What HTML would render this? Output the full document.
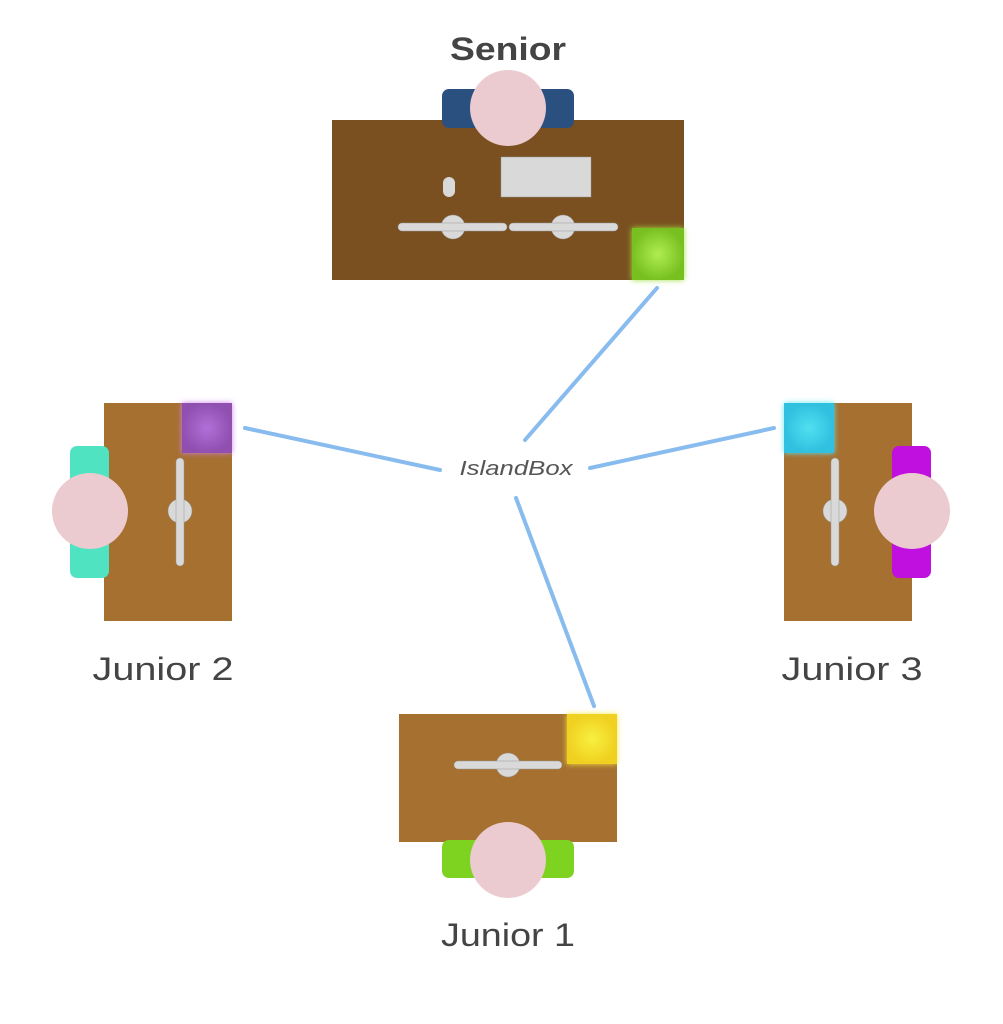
<!DOCTYPE html>
<html><head><meta charset="utf-8"><style>
html,body{margin:0;padding:0;background:#fff;width:1003px;height:1024px;overflow:hidden}
svg{display:block}
text{font-family:"Liberation Sans",sans-serif}
</style></head><body>
<svg width="1003" height="1024" viewBox="0 0 1003 1024">
<defs>
<filter id="glow" x="-50%" y="-50%" width="200%" height="200%"><feGaussianBlur stdDeviation="3"/></filter>
<radialGradient id="gG"><stop offset="0" stop-color="#b0ee50"/><stop offset="1" stop-color="#78c020"/></radialGradient>
<radialGradient id="gP"><stop offset="0" stop-color="#b070d8"/><stop offset="1" stop-color="#9050b0"/></radialGradient>
<radialGradient id="gC"><stop offset="0" stop-color="#50e0f0"/><stop offset="1" stop-color="#30c0e0"/></radialGradient>
<radialGradient id="gY"><stop offset="0" stop-color="#f8f040"/><stop offset="1" stop-color="#f0d020"/></radialGradient>
</defs>

<g stroke="#88bbee" stroke-width="4" stroke-linecap="round">
<line x1="657" y1="288" x2="525" y2="440"/>
<line x1="245" y1="428" x2="440" y2="470"/>
<line x1="590" y1="468" x2="774" y2="428"/>
<line x1="516" y1="498" x2="594" y2="706"/>
</g>
<text x="516" y="475" font-size="20" font-style="italic" fill="#555" text-anchor="middle" textLength="113" lengthAdjust="spacingAndGlyphs">IslandBox</text>

<!-- Senior -->
<g>
<text x="508" y="60" font-size="32" font-weight="bold" fill="#444" text-anchor="middle" textLength="116" lengthAdjust="spacingAndGlyphs">Senior</text>
<rect x="332" y="120" width="352" height="160" fill="#7a5020"/>
<rect x="442" y="89" width="132" height="39" rx="7" fill="#2a5080"/>
<circle cx="508" cy="108" r="38" fill="#ebcbcf"/>
<rect x="501" y="157" width="90" height="40" fill="#d9d9d9" stroke="#999" stroke-width="0.5"/>
<rect x="443" y="177" width="12" height="20" rx="6" fill="#d9d9d9"/>
<circle cx="453" cy="227" r="12" fill="#d9d9d9" stroke="#999" stroke-width="0.5"/>
<circle cx="563" cy="227" r="12" fill="#d9d9d9" stroke="#999" stroke-width="0.5"/>
<rect x="398" y="223" width="109" height="8" rx="4" fill="#d9d9d9" stroke="#999" stroke-width="0.5"/>
<rect x="509" y="223" width="109" height="8" rx="4" fill="#d9d9d9" stroke="#999" stroke-width="0.5"/>
<rect x="632" y="228" width="52" height="52" fill="#a0e040" filter="url(#glow)"/>
<rect x="632" y="228" width="52" height="52" fill="url(#gG)"/>
</g>

<!-- Junior 2 -->
<g>
<rect x="104" y="403" width="128" height="218" fill="#a57030"/>
<rect x="70" y="446" width="39" height="132" rx="7" fill="#50e3c2"/>
<circle cx="90" cy="511" r="38" fill="#ebcbcf"/>
<circle cx="180" cy="511" r="12" fill="#d9d9d9" stroke="#999" stroke-width="0.5"/>
<rect x="176" y="458" width="8" height="108" rx="4" fill="#d9d9d9" stroke="#999" stroke-width="0.5"/>
<rect x="182" y="403" width="50" height="50" fill="#d080f0" filter="url(#glow)"/>
<rect x="182" y="403" width="50" height="50" fill="url(#gP)"/>
<text x="163" y="680" font-size="32" fill="#444" text-anchor="middle" textLength="141" lengthAdjust="spacingAndGlyphs">Junior 2</text>
</g>

<!-- Junior 3 -->
<g>
<rect x="784" y="403" width="128" height="218" fill="#a57030"/>
<rect x="892" y="446" width="39" height="132" rx="7" fill="#c010e0"/>
<circle cx="912" cy="511" r="38" fill="#ebcbcf"/>
<circle cx="835" cy="511" r="12" fill="#d9d9d9" stroke="#999" stroke-width="0.5"/>
<rect x="831" y="458" width="8" height="108" rx="4" fill="#d9d9d9" stroke="#999" stroke-width="0.5"/>
<rect x="784" y="403" width="50" height="50" fill="#60e8f8" filter="url(#glow)"/>
<rect x="784" y="403" width="50" height="50" fill="url(#gC)"/>
<text x="852" y="680" font-size="32" fill="#444" text-anchor="middle" textLength="141" lengthAdjust="spacingAndGlyphs">Junior 3</text>
</g>

<!-- Junior 1 -->
<g>
<rect x="399" y="714" width="218" height="128" fill="#a57030"/>
<rect x="442" y="840" width="132" height="38" rx="7" fill="#7ed321"/>
<circle cx="508" cy="860" r="38" fill="#ebcbcf"/>
<circle cx="508" cy="765" r="12" fill="#d9d9d9" stroke="#999" stroke-width="0.5"/>
<rect x="454" y="761" width="108" height="8" rx="4" fill="#d9d9d9" stroke="#999" stroke-width="0.5"/>
<rect x="567" y="714" width="50" height="50" fill="#f8e840" filter="url(#glow)"/>
<rect x="567" y="714" width="50" height="50" fill="url(#gY)"/>
<text x="508" y="946" font-size="32" fill="#444" text-anchor="middle" textLength="134" lengthAdjust="spacingAndGlyphs">Junior 1</text>
</g>
</svg>
</body></html>
